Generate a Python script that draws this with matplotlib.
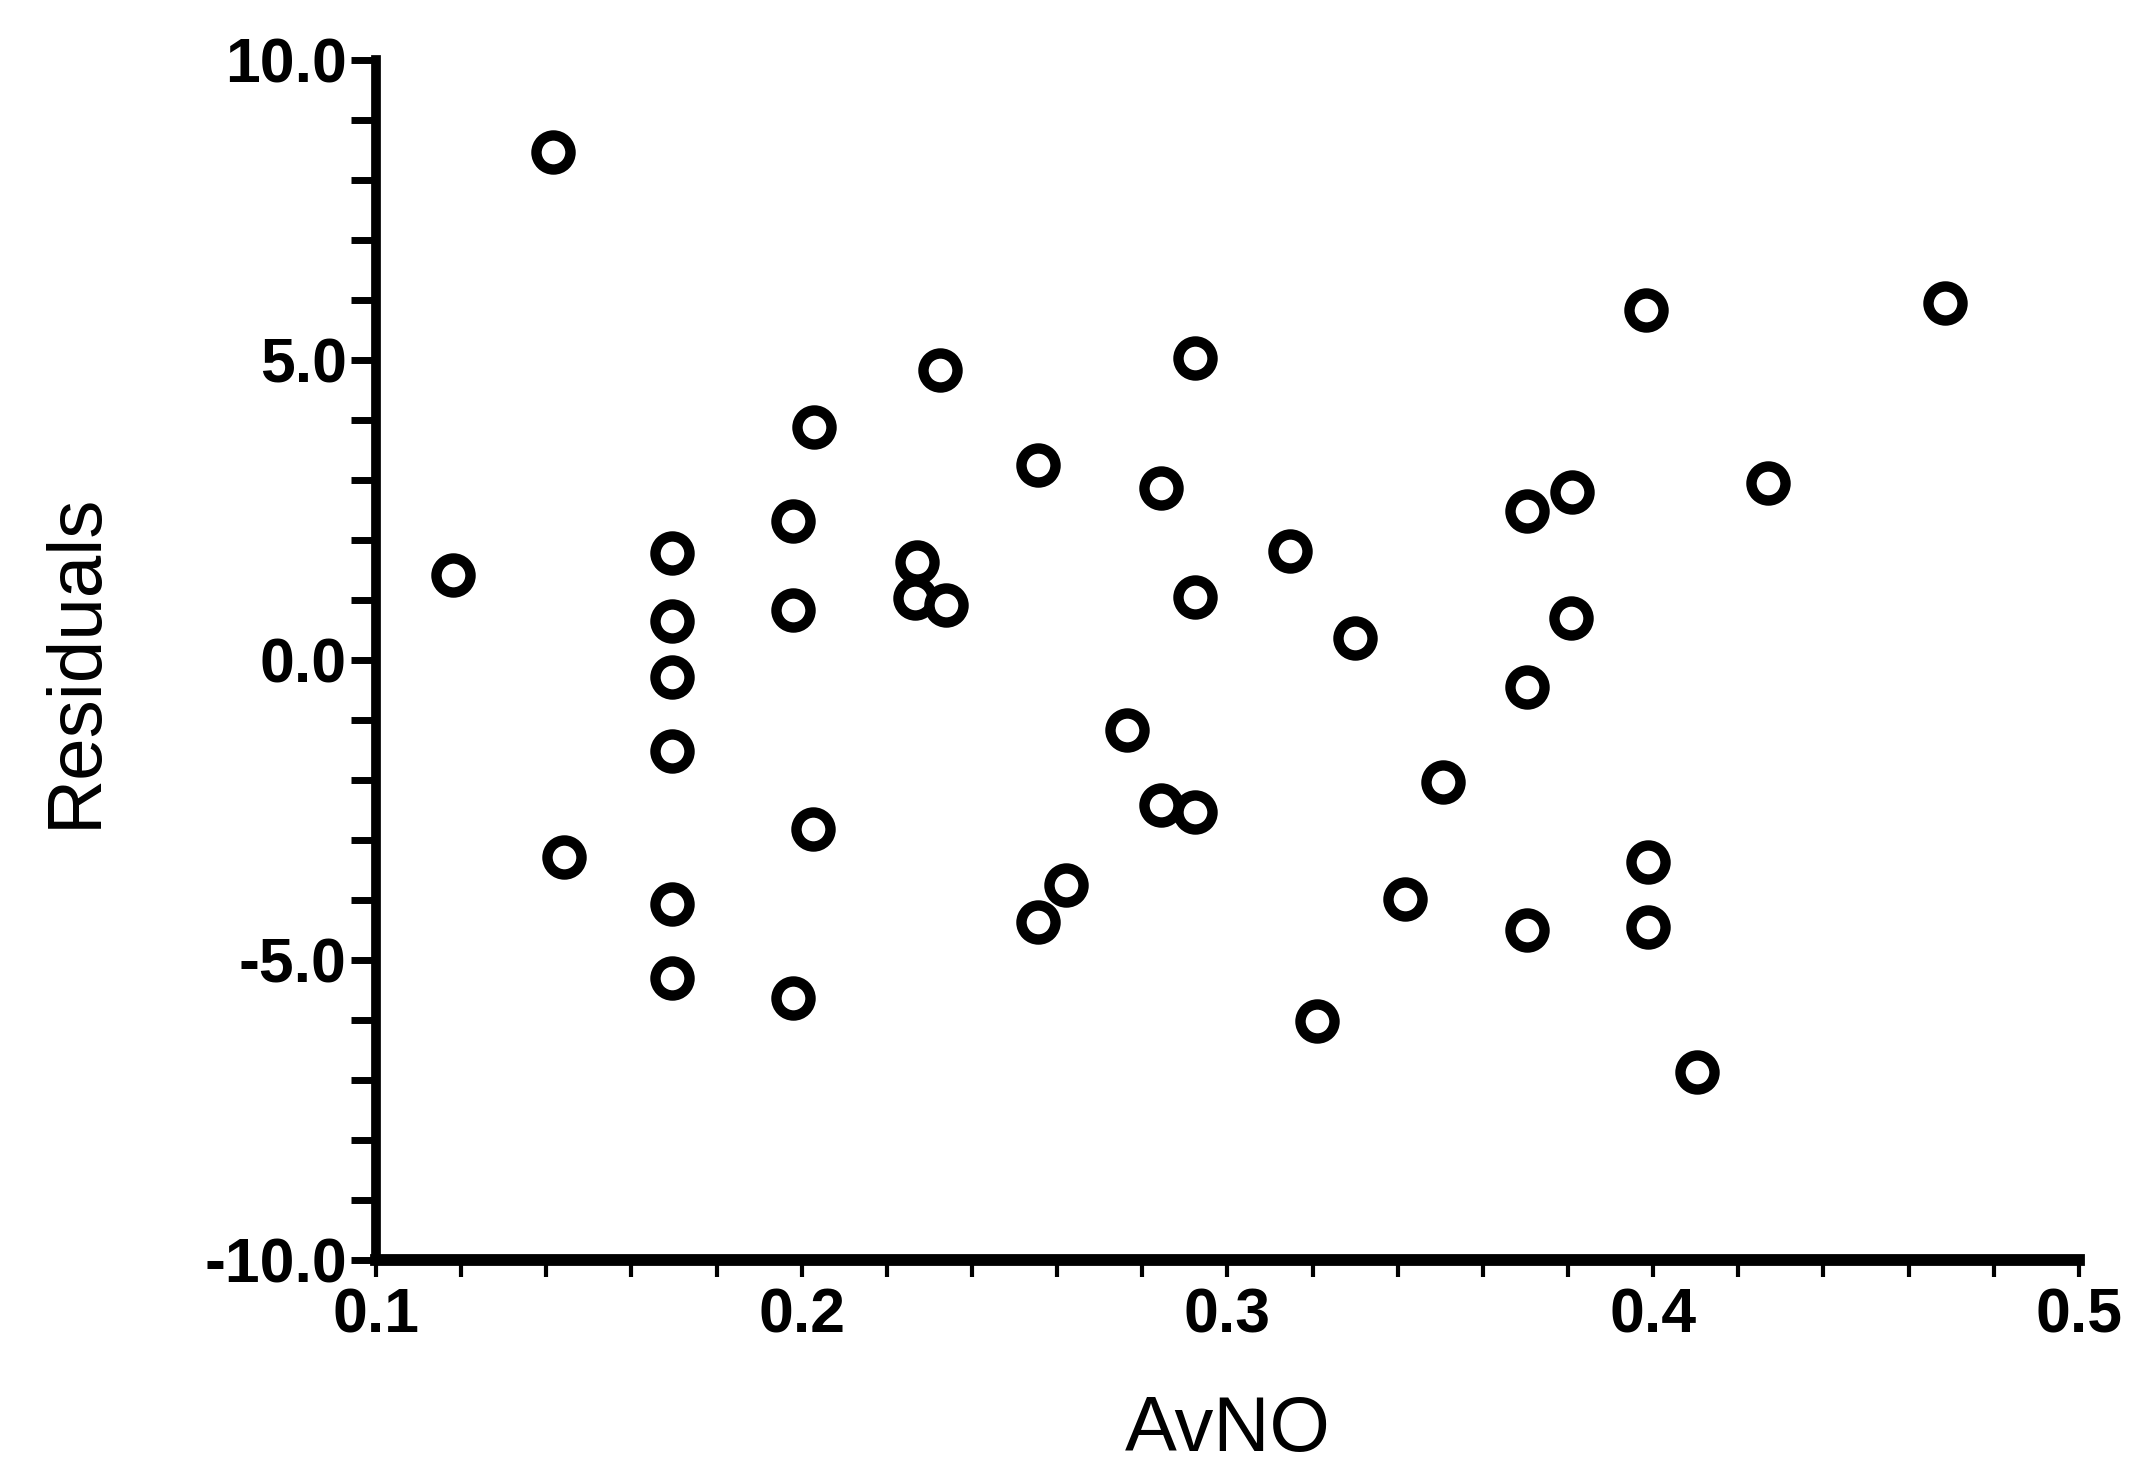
import matplotlib
matplotlib.use("Agg")
import matplotlib.pyplot as plt
from matplotlib.ticker import MultipleLocator, FormatStrFormatter

plt.rcParams['font.family'] = ['Liberation Sans', 'DejaVu Sans']

# AvNO values and the corresponding model residuals
avno = [0.1415, 0.118, 0.1441,
        0.1695, 0.1695, 0.1695, 0.1695, 0.1695, 0.1695,
        0.198, 0.198, 0.198, 0.2028, 0.2026,
        0.2324, 0.227, 0.2266, 0.234,
        0.2556, 0.2556, 0.262,
        0.2843, 0.2923, 0.2923, 0.2765, 0.2843, 0.2923,
        0.3146, 0.330, 0.321, 0.3506, 0.3416,
        0.3983, 0.3703, 0.3809, 0.3807, 0.3703, 0.3988, 0.3703, 0.3988,
        0.4103, 0.427, 0.4686]
residuals = [8.46, 1.42, -3.29,
             1.78, 0.65, -0.28, -1.52, -4.07, -5.30,
             2.32, 0.83, -5.63, 3.89, -2.82,
             4.83, 1.64, 1.03, 0.92,
             3.25, -4.36, -3.75,
             2.86, 5.03, 1.05, -1.16, -2.42, -2.53,
             1.81, 0.37, -6.01, -2.03, -3.98,
             5.83, 2.48, 2.80, 0.70, -0.45, -3.37, -4.50, -4.45,
             -6.87, 2.95, 5.95]

x_limits = (0.1, 0.5)
y_limits = (-10.0, 10.0)

fig = plt.figure(figsize=(21.51, 14.74), dpi=100)
ax = fig.add_axes([0.1748, 0.1452, 0.7917, 0.8141])

ax.plot(avno, residuals, linestyle='none', marker='o', markersize=24.5,
        markerfacecolor='white', markeredgecolor='black', markeredgewidth=7.5)

ax.set_xlim(*x_limits)
ax.set_ylim(*y_limits)

for side in ('top', 'right'):
    ax.spines[side].set_visible(False)
ax.spines['left'].set_linewidth(7.0)
ax.spines['bottom'].set_linewidth(8.5)
ax.spines['left'].set_capstyle('projecting')
ax.spines['bottom'].set_capstyle('projecting')

ax.xaxis.set_major_locator(MultipleLocator(0.1))
ax.xaxis.set_minor_locator(MultipleLocator(0.02))
ax.yaxis.set_major_locator(MultipleLocator(5.0))
ax.yaxis.set_minor_locator(MultipleLocator(1.0))
ax.xaxis.set_major_formatter(FormatStrFormatter('%.1f'))
ax.yaxis.set_major_formatter(FormatStrFormatter('%.1f'))

ax.tick_params(axis='y', which='both', direction='out', length=18, width=5,
               color='black', pad=3)
ax.tick_params(axis='x', which='both', direction='out', length=12, width=3,
               color='black', pad=7)
for lab in ax.get_xticklabels() + ax.get_yticklabels():
    lab.set_fontsize(45)
    lab.set_fontweight('bold')

ax.set_xlabel('AvNO', fontsize=56, va='center', ha='center')
ax.xaxis.set_label_coords(0.5, -0.1417)
ax.set_ylabel('Residuals', fontsize=55, va='center', ha='center', rotation=90)
ax.yaxis.set_label_coords(-0.176, 0.5)

fig.savefig('out.png', dpi=100, facecolor='white')
